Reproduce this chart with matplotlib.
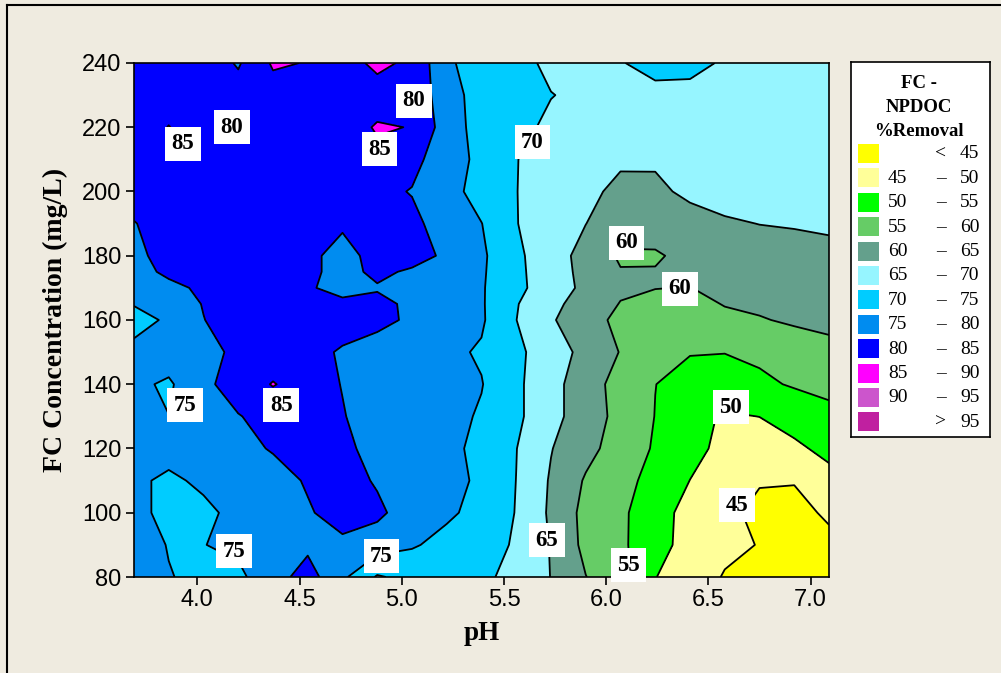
import numpy as np
import matplotlib.pyplot as plt
from matplotlib.patches import Rectangle
from matplotlib.lines import Line2D

# grid the surface was read on (pH columns, FC rows)
ph_grid = [3.69, 3.86, 4.03, 4.20, 4.37, 4.54, 4.71, 4.88, 5.05, 5.22, 5.39,
           5.56, 5.73, 5.90, 6.07, 6.24, 6.41, 6.58, 6.75, 6.92, 7.09]
fc_grid = [80, 90, 100, 110, 120, 130, 140, 150, 160, 165, 170, 175, 180, 190, 200, 210, 220, 230, 240]

# % removal, one row per FC level
row_80 = [76, 75.2, 74, 74, 78, 82, 76, 69.5, 71.5, 71.5, 71, 68.5, 64.9, 60.1, 57, 50.1, 48, 44.6, 42.5, 42, 43]
row_90 = [77, 74.8, 74.9, 76, 78, 79, 79, 77.5, 75.5, 73.5, 71.5, 69.6, 64.7, 58.7, 56, 51.5, 48.5, 46.3, 44.8, 42.5, 44]
row_100 = [76.5, 73.5, 73.8, 76.5, 78, 79.5, 82, 81, 77.5, 75.8, 73.5, 69.8, 64.2, 58.5, 56, 51.8, 48.5, 46, 44, 43.8, 45.6]
row_110 = [76, 74, 76, 77, 78, 80.5, 82, 79.5, 77.5, 76.5, 74.2, 69.95, 64.5, 59.5, 56.5, 53.5, 49.95, 47.5, 45.3, 45.2, 48.8]
row_120 = [77, 77, 78, 78.5, 80.4, 81.5, 81, 78.5, 77.5, 76.5, 73.5, 70.1, 65.2, 61.5, 57.8, 54.5, 51.5, 48.7, 47.5, 49.3, 51]
row_130 = [76.5, 75.05, 77.5, 79.8, 81.5, 82, 80.3, 77.5, 77, 76.5, 74.5, 71, 66.5, 62.5, 58.5, 54.9, 51.5, 49.5, 50.05, 51.5, 53]
row_140 = [76, 74.3, 79, 82, 85.3, 82.5, 79.8, 77, 76.5, 76, 75.2, 71, 66.5, 62.5, 58, 55.05, 53.5, 53, 54, 55.5, 57]
row_150 = [76.5, 77.5, 78.5, 81, 82, 81.5, 79.5, 77.5, 77, 76, 74.5, 71, 67.5, 63.5, 59.8, 56.5, 55.2, 55.1, 56, 57.5, 58.5]
row_160 = [73, 75.8, 79.9, 82, 83, 82.5, 82, 81.5, 79.1, 77.5, 75.6, 70.05, 65.5, 62, 58.8, 57.5, 57.5, 59, 59.7, 60.6, 61.3]
row_165 = [75.3, 77.5, 80.2, 82, 82.5, 81.8, 81, 81.2, 79.1, 77.5, 75.5, 70.3, 66.2, 63, 59.8, 58.8, 58.7, 60.2, 60.8, 61.6, 62.2]
row_170 = [78, 79, 80.7, 82, 82, 80.5, 78.5, 79.6, 79, 77.5, 75.4, 71.5, 66.8, 64.2, 60.8, 60.1, 59.9, 61.5, 61.8, 62.5, 63]
row_175 = [78.5, 80.8, 83, 83, 83, 81, 78.5, 81, 79.3, 78, 75.6, 71.2, 67, 63.8, 60.3, 60.3, 61, 62, 62.8, 63.3, 63.7]
row_180 = [79, 81.5, 83, 83, 83, 81, 78.5, 81.5, 82, 79.1, 75.8, 71, 67, 63.5, 59.3, 59.4, 61.5, 62.5, 63.5, 64, 64.3]
row_190 = [79.9, 81, 82.5, 83, 83, 81, 80.6, 82, 81.5, 77.1, 75.1, 70.1, 68.3, 65.05, 62.5, 62.5, 63.5, 64.6, 65.05, 65.2, 65.4]
row_200 = [81, 82.5, 83, 83, 83, 83, 83, 81.5, 79.7, 77, 72.9, 70.1, 67.5, 66, 64, 64.2, 65.8, 66.3, 66.5, 66.5, 66.4]
row_210 = [82, 83, 83, 82, 83, 83, 83, 84.2, 81.8, 76.5, 74.2, 70.1, 68.5, 67.5, 65.6, 65.5, 66.5, 67, 67.2, 67.2, 67.2]
row_220 = [83, 85.1, 83, 79.8, 83, 83, 83.5, 85.3, 84.9, 77.5, 73, 71, 69.3, 69, 68.8, 68.8, 68.6, 68.4, 68, 67.8, 67.5]
row_230 = [82, 83.5, 83, 82, 83, 83, 83, 83.5, 82.5, 78, 72, 71, 70.1, 69.3, 69.3, 69.5, 69.5, 69.2, 68.5, 68, 67.5]
row_240 = [82, 83, 83, 79.5, 85.6, 84.8, 83.5, 85.8, 84.3, 75.7, 73, 71.2, 69.2, 69.5, 69.9, 70.6, 70.5, 69.8, 68.5, 68, 67.5]

levels = [45, 50, 55, 60, 65, 70, 75, 80, 85, 90, 95]
band_colors = ['#FFFF00', '#FFFF99', '#00FF00', '#66CC66', '#64A08C', '#96F5FF',
               '#00CCFF', '#008CF0', '#0000FF', '#FF00FF', '#CC55CC', '#C020A0']

label_text = ['85', '80', '80', '85', '70', '60', '60', '75', '85', '50', '45', '75', '75', '65', '55']
label_ph = [3.93, 4.17, 5.06, 4.89, 5.64, 6.10, 6.36, 3.94, 4.41, 6.61, 6.64, 4.18, 4.90, 5.71, 6.11]
label_fc = [214.8, 220, 228.2, 213.2, 215.4, 184, 169.7, 133.5, 133.5, 132.9, 102.4, 88, 86.5, 91.5, 83.7]

bg = '#EFEBE0'
serif = ['Liberation Serif', 'DejaVu Serif']
tickfont = ['Liberation Sans Narrow', 'Liberation Sans', 'DejaVu Sans']

removal = np.array([row_80, row_90, row_100, row_110, row_120, row_130, row_140, row_150,
                    row_160, row_165, row_170, row_175, row_180, row_190, row_200, row_210,
                    row_220, row_230, row_240])
X, Y = np.meshgrid(ph_grid, fc_grid)

fig = plt.figure(figsize=(10.01, 6.73), dpi=100, facecolor=bg)
ax = fig.add_axes([134 / 1001, 1 - 577 / 673, 695 / 1001, 514 / 673])

bounds = [0] + levels + [200]
ax.contourf(X, Y, removal, levels=bounds, colors=band_colors)
ax.contour(X, Y, removal, levels=levels, colors='black', linewidths=1.3)

for t, x, y in zip(label_text, label_ph, label_fc):
    ax.text(x, y, t, ha='center', va='center', fontsize=16.5, fontweight='bold', family=serif,
            bbox=dict(boxstyle='square,pad=0.28', fc='white', ec='none'))

ax.set_xlim(3.69, 7.09)
ax.set_ylim(80, 240)
ax.set_xticks([4.0, 4.5, 5.0, 5.5, 6.0, 6.5, 7.0])
ax.set_xticklabels([f'{v:.1f}' for v in ax.get_xticks()])
ax.set_yticks([80, 100, 120, 140, 160, 180, 200, 220, 240])
ax.tick_params(direction='out', length=6, width=1.2, labelsize=17, pad=3)
for lab in ax.get_xticklabels() + ax.get_yticklabels():
    lab.set_family(tickfont)
for s in ax.spines.values():
    s.set_linewidth(1.2)

ax.set_xlabel('pH', fontsize=19.5, fontweight='bold', family=serif, labelpad=7)
ax.set_ylabel('FC Concentration (mg/L)', fontsize=20, fontweight='bold', family=serif, labelpad=10)

# outer frame lines (top and left)
fig.add_artist(Line2D([7 / 1001, 1], [1 - 5 / 673, 1 - 5 / 673], color='black', lw=1.5))
fig.add_artist(Line2D([7 / 1001, 7 / 1001], [0, 1 - 5 / 673], color='black', lw=1.5))

# legend box drawn by hand
lg = fig.add_axes([851 / 1001, 1 - 437 / 673, 139 / 1001, 375 / 673])
lg.set_xlim(0, 139)
lg.set_ylim(375, 0)
lg.set_xticks([])
lg.set_yticks([])
lg.set_facecolor('white')
for s in lg.spines.values():
    s.set_linewidth(1.2)
for i, line in enumerate(['FC -', 'NPDOC', '%Removal']):
    lg.text(68, 21 + 24.5 * i, line, ha='center', va='center', fontsize=13.5,
            fontweight='bold', family=serif)
for i, c in enumerate(band_colors):
    y0 = 82 + 24.4 * i
    lg.add_patch(Rectangle((7, y0), 21, 19, fc=c, ec='none'))
    yc = y0 + 10
    if i == 0:
        lg.text(90, yc, '<', ha='center', va='center', fontsize=14, family=serif)
        lg.text(109, yc, str(levels[0]), ha='left', va='center', fontsize=14, family=serif)
    elif i == len(band_colors) - 1:
        lg.text(90, yc, '>', ha='center', va='center', fontsize=14, family=serif)
        lg.text(109, yc, str(levels[-1]), ha='left', va='center', fontsize=14, family=serif)
    else:
        lg.text(37, yc, str(levels[i - 1]), ha='left', va='center', fontsize=14, family=serif)
        lg.text(90, yc, '\u2013', ha='center', va='center', fontsize=14, family=serif)
        lg.text(109, yc, str(levels[i]), ha='left', va='center', fontsize=14, family=serif)

fig.savefig('out.png', dpi=100, facecolor=bg)
